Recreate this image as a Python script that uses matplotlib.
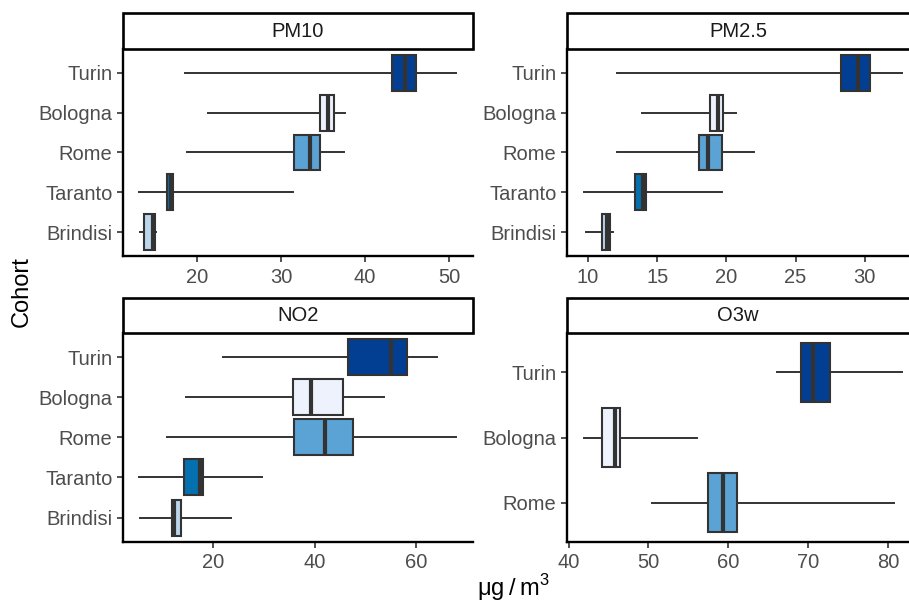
import matplotlib
matplotlib.use("Agg")
import matplotlib.pyplot as plt
from matplotlib.patches import Rectangle

plt.rcParams['font.family'] = ['Liberation Sans', 'DejaVu Sans']

# cohorts listed bottom -> top
cohorts5 = ["Brindisi", "Taranto", "Rome", "Bologna", "Turin"]
cohorts3 = ["Rome", "Bologna", "Turin"]

colors = {"Turin": "#023f93", "Bologna": "#eef2fd", "Rome": "#5aa3d4",
          "Taranto": "#0570b0", "Brindisi": "#bcd6ec"}

# box stats: whisker low, q1, median, q3, whisker high
pm10_lo  = [13.3, 13.1, 18.9, 21.3, 18.6]
pm10_q1  = [13.8, 16.5, 31.6, 34.6, 43.2]
pm10_med = [14.8, 17.0, 33.5, 35.6, 44.7]
pm10_q3  = [15.0, 17.2, 34.6, 36.3, 46.0]
pm10_hi  = [15.2, 31.4, 37.5, 37.6, 50.8]

pm25_lo  = [9.85, 9.7, 12.1, 13.9, 12.1]
pm25_q1  = [11.0, 13.4, 18.0, 18.8, 28.3]
pm25_med = [11.4, 14.0, 18.7, 19.4, 29.5]
pm25_q3  = [11.6, 14.2, 19.7, 19.75, 30.4]
pm25_hi  = [11.8, 19.7, 22.0, 20.7, 32.7]

no2_lo  = [5.6, 5.4, 10.8, 14.7, 21.9]
no2_q1  = [11.8, 14.2, 36.0, 35.8, 46.6]
no2_med = [12.2, 17.3, 42.1, 39.2, 55.1]
no2_q3  = [13.6, 17.9, 47.6, 45.5, 58.2]
no2_hi  = [23.5, 29.6, 67.9, 53.6, 64.2]

o3w_lo  = [50.5, 41.9, 66.1]
o3w_q1  = [57.5, 44.2, 69.1]
o3w_med = [59.3, 45.8, 70.6]
o3w_q3  = [61.1, 46.4, 72.8]
o3w_hi  = [80.8, 56.1, 81.8]

panels = [
    ("PM10", cohorts5, pm10_lo, pm10_q1, pm10_med, pm10_q3, pm10_hi, (11.25, 52.8), [20, 30, 40, 50]),
    ("PM2.5", cohorts5, pm25_lo, pm25_q1, pm25_med, pm25_q3, pm25_hi, (8.48, 33.2), [10, 15, 20, 25, 30]),
    ("NO2", cohorts5, no2_lo, no2_q1, no2_med, no2_q3, no2_hi, (2.2, 71.2), [20, 40, 60]),
    ("O3w", cohorts3, o3w_lo, o3w_q1, o3w_med, o3w_q3, o3w_hi, (39.8, 82.65), [40, 50, 60, 70, 80]),
]

W, H = 909, 609
fig = plt.figure(figsize=(W / 100, H / 100), dpi=100)

# axes boxes in pixels: left, top, right, bottom
boxes = [(123, 49, 473, 256), (567, 49, 909, 256),
         (123, 333.5, 473, 541.5), (567, 333.5, 909, 541.5)]
strip_h = 35.5
edge = "#333333"

for (name, cats, lo, q1, med, q3, hi, xlim, xticks), (l, t, r, b) in zip(panels, boxes):
    ax = fig.add_axes([l / W, 1 - b / H, (r - l) / W, (b - t) / H])
    stats = []
    for i in range(len(cats)):
        stats.append(dict(whislo=lo[i], q1=q1[i], med=med[i], q3=q3[i], whishi=hi[i]))
    pos = list(range(1, len(cats) + 1))
    bp = ax.bxp(stats, positions=pos, widths=0.9, orientation='horizontal',
                patch_artist=True, showcaps=False, showfliers=False,
                boxprops=dict(edgecolor=edge, linewidth=1.5),
                whiskerprops=dict(color=edge, linewidth=1.4),
                medianprops=dict(color=edge, linewidth=3.0, solid_capstyle='butt'))
    for patch, c in zip(bp['boxes'], cats):
        patch.set_facecolor(colors[c])
    ax.set_xlim(*xlim)
    ax.set_ylim(0.4, len(cats) + 0.6)
    ax.set_yticks(pos)
    ax.set_yticklabels(cats)
    ax.set_xticks(xticks)
    for s in ["top", "right"]:
        ax.spines[s].set_visible(False)
    for s in ["left", "bottom"]:
        ax.spines[s].set_linewidth(1.7)
        ax.spines[s].set_color("black")
    ax.tick_params(axis="both", length=4.5, width=1.2, color="#333333",
                   labelsize=14.5, labelcolor="#4d4d4d")
    ax.tick_params(axis="x", pad=4)
    ax.tick_params(axis="y", pad=3)
    # facet strip on top
    sh = strip_h / (b - t)
    ext = 1.02 if r >= W else 1.0
    ax.add_patch(Rectangle((0, 1), ext, sh, transform=ax.transAxes, clip_on=False,
                           facecolor="white", edgecolor="black", linewidth=1.9))
    ax.text(0.5, 1 + sh / 2, name, transform=ax.transAxes, ha="center", va="center",
            fontsize=14.5, color="#1a1a1a")

fig.text(22 / W, 1 - 292 / H, "Cohort", rotation=90, ha="center", va="center", fontsize=17)
fig.text(514 / W, 1 - 588 / H, "μg\u2009/\u2009m$^\\mathregular{3}$", ha="center", va="center", fontsize=17)

fig.savefig("out.png", dpi=100)
